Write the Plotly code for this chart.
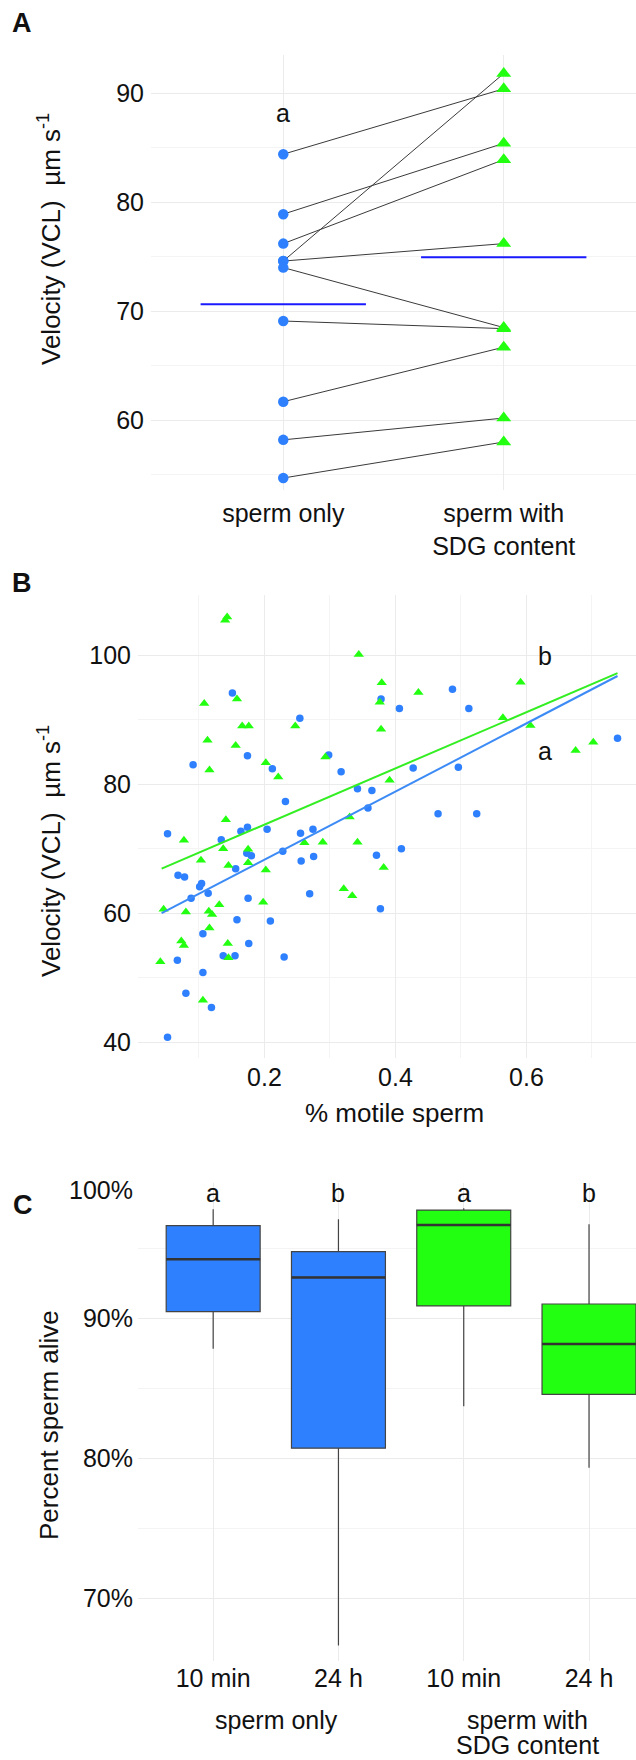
import plotly.graph_objects as go
import numpy as np

W, H = 636, 1760

# ---------------- Panel A data ----------------
a_categories = ["sperm only", "sperm with<br>SDG content"]
a_sperm_only = [84.4, 78.9, 76.2, 74.6, 74.6, 74.0, 69.1, 61.7, 58.2, 54.7]
a_sperm_sdg = [90.4, 85.4, 83.9, 91.8, 76.2, 68.5, 68.4, 66.7, 60.2, 58.0]
a_letters = ["a", "b"]

# ---------------- Panel B data ----------------
b_blue_x = [0.052, 0.151, 0.091, 0.174, 0.068, 0.078, 0.101, 0.104, 0.114, 0.134,
            0.156, 0.164, 0.174, 0.173, 0.180, 0.204, 0.212, 0.232, 0.228, 0.254,
            0.255, 0.256, 0.274, 0.275, 0.269, 0.298, 0.317, 0.342, 0.364, 0.358,
            0.378, 0.406, 0.371, 0.409, 0.427, 0.465, 0.487, 0.512, 0.496, 0.524,
            0.739, 0.088, 0.175, 0.377, 0.158, 0.209, 0.106, 0.176, 0.067, 0.137,
            0.155, 0.230, 0.106, 0.080, 0.119, 0.052]
b_blue_y = [72.3, 94.1, 83.0, 84.4, 65.9, 65.6, 64.1, 64.6, 63.1, 71.4,
            66.9, 72.7, 73.3, 69.3, 68.9, 73.0, 82.4, 77.3, 69.6, 90.2,
            72.4, 68.1, 73.0, 68.8, 63.0, 84.5, 81.9, 79.3, 79.0, 76.3,
            93.2, 91.7, 69.0, 70.0, 82.5, 75.4, 94.7, 91.7, 82.6, 75.4,
            87.1, 62.3, 62.3, 60.7, 59.0, 58.8, 56.8, 55.3, 52.7, 53.4,
            53.4, 53.2, 50.8, 47.6, 45.4, 40.8]
b_green_x = [0.344, 0.108, 0.158, 0.113, 0.116, 0.156, 0.166, 0.176, 0.202, 0.221,
             0.247, 0.293, 0.379, 0.435, 0.376, 0.378, 0.391, 0.564, 0.591, 0.606,
             0.675, 0.702, 0.141, 0.077, 0.137, 0.103, 0.145, 0.175, 0.175, 0.202,
             0.261, 0.289, 0.330, 0.342, 0.382, 0.321, 0.334, 0.046, 0.080, 0.115,
             0.120, 0.131, 0.198, 0.116, 0.073, 0.077, 0.144, 0.145, 0.041, 0.106,
             0.143, 0.140]
b_green_y = [100.1, 92.5, 93.2, 86.8, 82.2, 86.0, 89.0, 89.0, 83.3, 81.1,
             89.0, 84.2, 95.7, 94.2, 92.7, 88.5, 80.6, 90.3, 95.8, 89.1,
             85.2, 86.5, 74.5, 71.3, 70.0, 68.2, 67.4, 69.9, 67.8, 66.7,
             70.9, 71.0, 74.9, 71.0, 67.1, 63.8, 62.7, 60.6, 60.2, 60.3,
             59.8, 61.3, 61.7, 57.7, 55.7, 55.0, 55.3, 53.1, 52.5, 46.5,
             105.9, 105.4]
b_fit_x = [0.043, 0.739]
b_fit_blue_y = [60.0, 96.75]
b_fit_green_y = [66.9, 97.2]

# ---------------- Panel C data ----------------
c_tick_labels = ["10 min", "24 h", "10 min", "24 h"]
c_groups = ["sperm only", "sperm with", "SDG content"]
c_lowerfence = [87.8, 66.6, 83.7, 79.3]
c_q1 = [90.45, 80.7, 90.86, 84.55]
c_median = [94.2, 92.9, 96.64, 88.14]
c_q3 = [96.6, 94.74, 97.71, 91.0]
c_upperfence = [97.76, 97.05, 97.84, 96.69]
c_letters = ["a", "b", "a", "b"]
c_yticks = [70, 80, 90]
c_top_label = "100%"

BLUE = "#2E80FF"
GREEN = "#22FF10"
GRID = "#EBEBEB"
MINOR = "#F4F4F4"
TXT = "#111111"
FONT = "Liberation Sans, Arial, Helvetica, sans-serif"


def px(x, y):
    return x / W, 1 - y / H


fig = go.Figure()

# ----- Panel A -----
pos = [0, 1]
lx, ly = [], []
for b, g in zip(a_sperm_only, a_sperm_sdg):
    lx += [pos[0], pos[1], None]
    ly += [b, g, None]
fig.add_trace(go.Scatter(x=lx, y=ly, mode="lines", line=dict(color="#3a3a3a", width=1),
                         xaxis="x", yaxis="y", hoverinfo="skip", showlegend=False))
fig.add_trace(go.Scatter(x=[pos[0]] * len(a_sperm_only), y=a_sperm_only, mode="markers",
                         marker=dict(color=BLUE, size=10.5, symbol="circle"),
                         xaxis="x", yaxis="y", showlegend=False))
fig.add_trace(go.Scatter(x=[pos[1]] * len(a_sperm_sdg), y=a_sperm_sdg, mode="markers",
                         marker=dict(color=GREEN, size=13, symbol="triangle-up"),
                         xaxis="x", yaxis="y", showlegend=False))
means = [np.mean(a_sperm_only), np.mean(a_sperm_sdg)]
mx, my = [], []
for p, m in zip(pos, means):
    mx += [p - 0.375, p + 0.375, None]
    my += [m, m, None]
fig.add_trace(go.Scatter(x=mx, y=my, mode="lines", line=dict(color="#1a1aff", width=2),
                         xaxis="x", yaxis="y", showlegend=False))

# ----- Panel B -----
fig.add_trace(go.Scatter(x=b_blue_x, y=b_blue_y, mode="markers",
                         marker=dict(color=BLUE, size=7.5, symbol="circle"),
                         xaxis="x2", yaxis="y2", showlegend=False))
fig.add_trace(go.Scatter(x=b_green_x, y=b_green_y, mode="markers",
                         marker=dict(color=GREEN, size=9, symbol="triangle-up"),
                         xaxis="x2", yaxis="y2", showlegend=False))
fig.add_trace(go.Scatter(x=b_fit_x, y=b_fit_green_y, mode="lines",
                         line=dict(color="#33EE22", width=2), xaxis="x2", yaxis="y2", showlegend=False))
fig.add_trace(go.Scatter(x=b_fit_x, y=b_fit_blue_y, mode="lines",
                         line=dict(color="#3D8BF5", width=2), xaxis="x2", yaxis="y2", showlegend=False))

# ----- Panel C -----
c_pos = [1, 2, 3, 4]
c_fill = [BLUE, BLUE, GREEN, GREEN]
for i in range(4):
    fig.add_trace(go.Box(x=[c_pos[i]], q1=[c_q1[i]], median=[c_median[i]], q3=[c_q3[i]],
                         lowerfence=[c_lowerfence[i]], upperfence=[c_upperfence[i]],
                         width=0.75, whiskerwidth=0, fillcolor=c_fill[i],
                         line=dict(color="#444444", width=1.2),
                         xaxis="x3", yaxis="y3", showlegend=False, hoverinfo="skip"))
medx, medy = [], []
for p, m in zip(c_pos, c_median):
    medx += [p - 0.375, p + 0.375, None]
    medy += [m, m, None]
fig.add_trace(go.Scatter(x=medx, y=medy, mode="lines", line=dict(color="#333333", width=2.5),
                         xaxis="x3", yaxis="y3", showlegend=False, hoverinfo="skip"))

tickfont = dict(family=FONT, size=25, color=TXT)

# panel C vertical mapping: 90% at y=1318 px, 14 px per percent
C_TOP, C_BOT = 1183.0, 1661.0
c_range = [90 - (C_BOT - 1318) / 14.0, 90 + (1318 - C_TOP) / 14.0]

fig.update_layout(
    width=W, height=H, margin=dict(l=0, r=0, t=0, b=0),
    paper_bgcolor="white", plot_bgcolor="white", showlegend=False,
    font=dict(family=FONT, color=TXT),
    # Panel A
    xaxis=dict(domain=[151 / W, 1], range=[-0.6, 1.6], tickvals=pos, ticktext=a_categories,
               showgrid=True, gridcolor=GRID, zeroline=False, showline=False, tickfont=tickfont,
               ticks="", ticklabelstandoff=6, fixedrange=True),
    yaxis=dict(domain=[1 - 490 / H, 1 - 55 / H], range=[53.6, 93.5], tickvals=[60, 70, 80, 90],
               showgrid=True, gridcolor=GRID, zeroline=False, showline=False, tickfont=tickfont,
               minor=dict(tickvals=[55, 65, 75, 85], showgrid=True, gridcolor=MINOR),
               ticks="", ticklabelstandoff=6),
    # Panel B
    xaxis2=dict(domain=[138 / W, 1], range=[0.0069, 0.7672], tickvals=[0.2, 0.4, 0.6],
                ticktext=["0.2", "0.4", "0.6"],
                showgrid=True, gridcolor=GRID, zeroline=False, showline=False, tickfont=tickfont,
                minor=dict(tickvals=[0.1, 0.3, 0.5, 0.7], showgrid=True, gridcolor=MINOR),
                ticks="", ticklabelstandoff=2, anchor="y2"),
    yaxis2=dict(domain=[1 - 1058 / H, 1 - 595 / H], range=[37.57, 109.3], tickvals=[40, 60, 80, 100],
                showgrid=True, gridcolor=GRID, zeroline=False, showline=False, tickfont=tickfont,
                minor=dict(tickvals=[50, 70, 90], showgrid=True, gridcolor=MINOR),
                ticks="", ticklabelstandoff=6, anchor="x2"),
    # Panel C
    xaxis3=dict(domain=[138 / W, 1], range=[0.4, 4.375], tickvals=c_pos, ticktext=c_tick_labels,
                showgrid=True, gridcolor=GRID, zeroline=False, showline=False, tickfont=tickfont,
                ticks="", ticklabelstandoff=0, anchor="y3"),
    yaxis3=dict(domain=[1 - C_BOT / H, 1 - C_TOP / H], range=c_range,
                tickvals=c_yticks, ticktext=["%d%%" % v for v in c_yticks],
                showgrid=True, gridcolor=GRID, zeroline=False, showline=False, tickfont=tickfont,
                minor=dict(tickvals=[75, 85, 95], showgrid=True, gridcolor=MINOR),
                ticks="", ticklabelstandoff=4, anchor="x3"),
)

ann = []


def add_px_text(text, x, y, size=25, bold=False, angle=0, xanchor="center"):
    xp, yp = px(x, y)
    ann.append(dict(text=("<b>%s</b>" % text) if bold else text, x=xp, y=yp, xref="paper", yref="paper",
                    xanchor=xanchor, yanchor="middle", showarrow=False, textangle=angle,
                    font=dict(family=FONT, size=size, color=TXT)))


# panel letters
add_px_text("A", 22, 23, size=27, bold=True)
add_px_text("B", 22, 583, size=27, bold=True)
add_px_text("C", 23, 1205, size=27, bold=True)

# y-axis titles
ytitle = "Velocity (VCL)  µm s<sup>-1</sup>"
add_px_text(ytitle, 50, 239, size=26, angle=-90)
add_px_text(ytitle, 49, 851, size=26, angle=-90)
add_px_text("Percent sperm alive", 49, 1425, size=26, angle=-90)

# x title B
add_px_text("% motile sperm", 394, 1113, size=26)

# group labels C
add_px_text(c_groups[0], 276, 1720, size=25)
add_px_text(c_groups[1], 527, 1720, size=25)
add_px_text(c_groups[2], 527, 1745, size=25)

# top label of panel C axis
add_px_text(c_top_label, 135, 1190, size=25, xanchor="right")

fig.update_layout(annotations=ann)

# significance letters (data coordinates)
fig.add_annotation(x=pos[0], y=88.2, xref="x", yref="y", text=a_letters[0], showarrow=False,
                   font=dict(family=FONT, size=25, color=TXT))
fig.add_annotation(x=pos[1], y=95.2, xref="x", yref="y", text=a_letters[1], showarrow=False,
                   font=dict(family=FONT, size=25, color=TXT))
fig.add_annotation(x=0.628, y=99.85, xref="x2", yref="y2", text="b", showarrow=False,
                   font=dict(family=FONT, size=25, color=TXT))
fig.add_annotation(x=0.628, y=85.1, xref="x2", yref="y2", text="a", showarrow=False,
                   font=dict(family=FONT, size=25, color=TXT))
for p, l in zip(c_pos, c_letters):
    fig.add_annotation(x=p, y=98.9, xref="x3", yref="y3", text=l, showarrow=False,
                       font=dict(family=FONT, size=25, color=TXT))

fig.write_html("out.html", config={"displayModeBar": False},
               post_script="document.body.style.margin='0';document.body.style.overflow='hidden';")
